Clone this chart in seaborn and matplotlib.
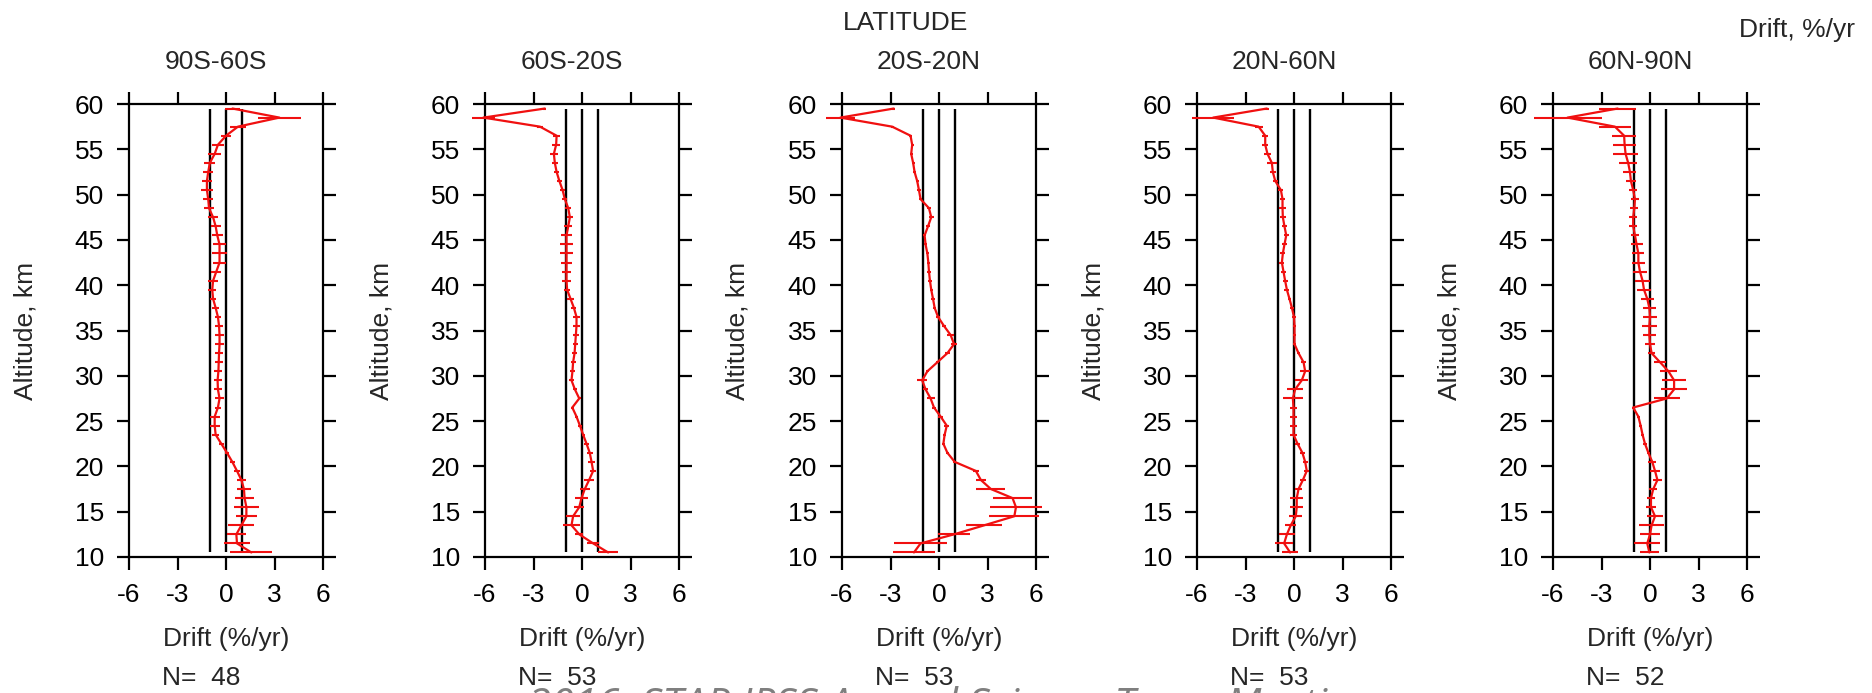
import numpy as np
import pandas as pd
import matplotlib
matplotlib.use("Agg")
import matplotlib.pyplot as plt
import seaborn as sns

# ---------------- data ----------------
altitude = [10.5, 11.5, 12.5, 13.5, 14.5, 15.5, 16.5, 17.5, 18.5, 19.5,
            20.5, 21.5, 22.5, 23.5, 24.5, 25.5, 26.5, 27.5, 28.5, 29.5,
            30.5, 31.5, 32.5, 33.5, 34.5, 35.5, 36.5, 37.5, 38.5, 39.5,
            40.5, 41.5, 42.5, 43.5, 44.5, 45.5, 46.5, 47.5, 48.5, 49.5,
            50.5, 51.5, 52.5, 53.5, 54.5, 55.5, 56.5, 57.5, 58.5, 59.5]

regions = ["90S-60S", "60S-20S", "20S-20N", "20N-60N", "60N-90N"]
n_counts = [48, 53, 53, 53, 52]

drift_90s_60s = [1.57, 0.68, 0.64, 0.95, 1.26, 1.26, 1.15, 1.11, 0.95, 0.68,
                 0.39, 0.06, -0.29, -0.64, -0.70, -0.70, -0.50, -0.40, -0.50, -0.52,
                 -0.47, -0.45, -0.43, -0.40, -0.40, -0.43, -0.50, -0.64, -0.80, -0.85,
                 -0.80, -0.60, -0.40, -0.40, -0.40, -0.54, -0.64, -0.80, -1.05, -1.10,
                 -1.18, -1.18, -1.10, -1.00, -0.70, -0.50, 0.00, 0.74, 3.30, 0.40]
err_90s_60s = [1.30, 0.80, 0.60, 0.80, 0.67, 0.77, 0.57, 0.45, 0.30, 0.20,
               0.15, 0.15, 0.15, 0.20, 0.30, 0.30, 0.20, 0.30, 0.25, 0.25,
               0.25, 0.25, 0.25, 0.25, 0.25, 0.25, 0.20, 0.20, 0.20, 0.25,
               0.30, 0.30, 0.40, 0.45, 0.40, 0.35, 0.30, 0.30, 0.30, 0.30,
               0.35, 0.30, 0.30, 0.35, 0.40, 0.35, 0.30, 0.50, 1.35, 0.45]

drift_60s_20s = [1.62, 0.69, -0.17, -0.65, -0.55, -0.17, -0.03, 0.17, 0.44, 0.69,
                 0.59, 0.48, 0.28, 0.07, -0.13, -0.34, -0.60, -0.17, -0.44, -0.65,
                 -0.59, -0.55, -0.46, -0.42, -0.38, -0.34, -0.34, -0.50, -0.71, -0.92,
                 -0.96, -0.96, -0.96, -0.96, -0.96, -0.96, -0.85, -0.75, -0.85, -1.06,
                 -1.20, -1.40, -1.57, -1.68, -1.74, -1.60, -1.57, -2.60, -6.10, -2.30]
err_60s_20s = [0.60, 0.35, 0.25, 0.50, 0.45, 0.30, 0.40, 0.30, 0.30, 0.20,
               0.20, 0.20, 0.15, 0.10, 0.10, 0.10, 0.10, 0.10, 0.10, 0.15,
               0.15, 0.15, 0.15, 0.15, 0.20, 0.20, 0.20, 0.15, 0.20, 0.20,
               0.30, 0.30, 0.35, 0.40, 0.40, 0.35, 0.25, 0.20, 0.20, 0.15,
               0.15, 0.15, 0.15, 0.20, 0.25, 0.25, 0.20, 0.20, 0.70, 0.10]

drift_20s_20n = [-1.55, -1.14, 0.93, 2.80, 4.66, 4.76, 4.55, 3.21, 2.59, 2.28,
                 0.97, 0.52, 0.27, 0.35, 0.48, 0.10, -0.31, -0.52, -0.83, -1.04,
                 -0.72, -0.10, 0.52, 0.93, 0.72, 0.31, -0.06, -0.27, -0.37, -0.48,
                 -0.56, -0.62, -0.66, -0.72, -0.83, -0.89, -0.68, -0.48, -0.62, -1.14,
                 -1.24, -1.35, -1.51, -1.60, -1.72, -1.66, -1.76, -2.90, -6.10, -2.80]
err_20s_20n = [1.30, 1.65, 1.00, 1.10, 1.55, 1.60, 1.20, 0.90, 0.30, 0.20,
               0.10, 0.10, 0.10, 0.10, 0.15, 0.15, 0.10, 0.25, 0.15, 0.30,
               0.10, 0.10, 0.15, 0.20, 0.20, 0.10, 0.10, 0.10, 0.10, 0.10,
               0.10, 0.10, 0.10, 0.10, 0.10, 0.10, 0.10, 0.15, 0.10, 0.10,
               0.10, 0.10, 0.10, 0.10, 0.10, 0.10, 0.10, 0.10, 0.90, 0.10]

drift_20n_60n = [-0.24, -0.61, -0.44, -0.20, 0.11, 0.17, 0.17, 0.28, 0.55, 0.79,
                 0.69, 0.52, 0.22, -0.03, -0.03, -0.03, -0.03, -0.07, 0.07, 0.48,
                 0.69, 0.59, 0.28, 0.03, 0.03, 0.03, 0.00, -0.13, -0.28, -0.44,
                 -0.55, -0.65, -0.75, -0.69, -0.59, -0.48, -0.59, -0.69, -0.71, -0.71,
                 -0.81, -1.16, -1.31, -1.37, -1.64, -1.78, -1.78, -2.19, -5.00, -1.68]
err_20n_60n = [0.50, 0.55, 0.50, 0.35, 0.40, 0.40, 0.40, 0.20, 0.20, 0.15,
               0.15, 0.15, 0.15, 0.20, 0.20, 0.20, 0.20, 0.60, 0.50, 0.40,
               0.30, 0.15, 0.10, 0.10, 0.10, 0.10, 0.10, 0.10, 0.10, 0.15,
               0.15, 0.15, 0.15, 0.15, 0.15, 0.15, 0.15, 0.20, 0.20, 0.15,
               0.15, 0.15, 0.20, 0.33, 0.20, 0.20, 0.20, 0.25, 1.30, 0.15]

drift_60n_90n = [-0.04, -0.17, 0.00, 0.10, 0.31, 0.06, 0.06, 0.20, 0.46, 0.31,
                 0.14, -0.10, -0.31, -0.46, -0.58, -0.72, -1.04, 1.04, 1.49, 1.49,
                 1.14, 0.62, 0.10, 0.00, -0.04, -0.04, 0.00, -0.04, -0.17, -0.37,
                 -0.46, -0.62, -0.72, -0.72, -0.83, -0.93, -1.04, -1.04, -0.97, -0.93,
                 -1.04, -1.18, -1.24, -1.35, -1.51, -1.57, -1.60, -2.17, -5.10, -2.00]
err_60n_90n = [0.60, 0.80, 0.62, 0.78, 0.50, 0.30, 0.25, 0.25, 0.30, 0.30,
               0.25, 0.10, 0.10, 0.10, 0.10, 0.10, 0.10, 0.80, 0.78, 0.72,
               0.50, 0.40, 0.20, 0.30, 0.40, 0.45, 0.45, 0.40, 0.40, 0.45,
               0.45, 0.45, 0.40, 0.37, 0.37, 0.25, 0.25, 0.25, 0.25, 0.25,
               0.25, 0.30, 0.40, 0.55, 0.75, 0.72, 0.72, 1.00, 2.10, 1.15]

drifts = [drift_90s_60s, drift_60s_20s, drift_20s_20n, drift_20n_60n, drift_60n_90n]
errors = [err_90s_60s, err_60s_20s, err_20s_20n, err_20n_60n, err_60n_90n]

ref_lines = [-1, 0, 1]
x_ticks = [-6, -3, 0, 3, 6]
y_ticks = [10, 15, 20, 25, 30, 35, 40, 45, 50, 55, 60]

# ---------------- style ----------------
sns.set_theme(style="ticks")
plt.rcParams["font.family"] = ["Liberation Sans", "DejaVu Sans"]
FS = 19
RED = "#f01010"

W, H = 1872, 693
fig = plt.figure(figsize=(W / 100, H / 100), dpi=100)
fig.patch.set_facecolor("white")

lefts_px = [129, 485, 842, 1197, 1553]
ax_w, top_px, bot_px = 194, 104, 557

for i, region in enumerate(regions):
    l = lefts_px[i]
    ax = fig.add_axes([l / W, 1 - bot_px / H, ax_w / W, (bot_px - top_px) / H])
    df = pd.DataFrame({"alt": altitude, "drift": drifts[i], "err": errors[i]})

    # reference lines
    ax.vlines(ref_lines, min(altitude), max(altitude), colors="black", lw=1.7, zorder=2)

    # error bars
    eb = ax.errorbar(df["drift"], df["alt"], xerr=df["err"], fmt="none",
                     ecolor=RED, elinewidth=1.5, capsize=0, zorder=3)
    for c in eb.get_children():
        c.set_clip_on(False)

    # profile line
    sns.lineplot(data=df, x="drift", y="alt", orient="y", estimator=None,
                 color=RED, lw=1.6, ax=ax, zorder=4)
    for ln in ax.get_lines():
        ln.set_clip_on(False)

    ax.set_xlim(-6, 6)
    ax.set_ylim(10, 60)
    ax.set_xticks(x_ticks)
    ax.set_yticks(y_ticks)
    ax.set_xticklabels([str(t) for t in x_ticks])
    ax.set_xlabel("")
    ax.set_ylabel("")
    ax.tick_params(axis="both", which="major", direction="out", length=9,
                   width=1.6, color="black", labelsize=FS, labelcolor="black",
                   top=True, right=True, labeltop=False, labelright=False)
    ax.tick_params(axis="x", pad=10)
    ax.tick_params(axis="y", pad=9)
    for sp in ax.spines.values():
        sp.set_visible(True)
        sp.set_linewidth(1.6)
        sp.set_color("black")
    ax.set_facecolor("white")
    ax.grid(False)

    cx = l + ax_w / 2
    fig.text((cx - 10) / W, 1 - 62 / H, region, ha="center", va="center", fontsize=FS)
    fig.text(cx / W, 1 - 639 / H, "Drift (%/yr)", ha="center", va="center", fontsize=FS)
    fig.text((l + 33) / W, 1 - 678 / H, f"N=  {n_counts[i]}", ha="left", va="center", fontsize=FS)
    fig.text((l - 104) / W, 1 - 331 / H, "Altitude, km", rotation=90,
             ha="center", va="center", fontsize=FS)

fig.text(906 / W, 1 - 23 / H, "LATITUDE", ha="center", va="center", fontsize=FS)
fig.text(1855 / W, 1 - 30 / H, "Drift, %/yr", ha="right", va="center", fontsize=FS)

# footer banner, partly cut by the bottom edge as in the original slide
fig.text(528 / W, 1 - 718 / H, "2016  STAR JPSS Annual Science Team Meeting",
         ha="left", va="baseline", fontsize=30, color="#7f7f7f",
         family=["Open Sans", "DejaVu Sans"], style="italic")

fig.savefig("out.png", dpi=100, facecolor="white")
